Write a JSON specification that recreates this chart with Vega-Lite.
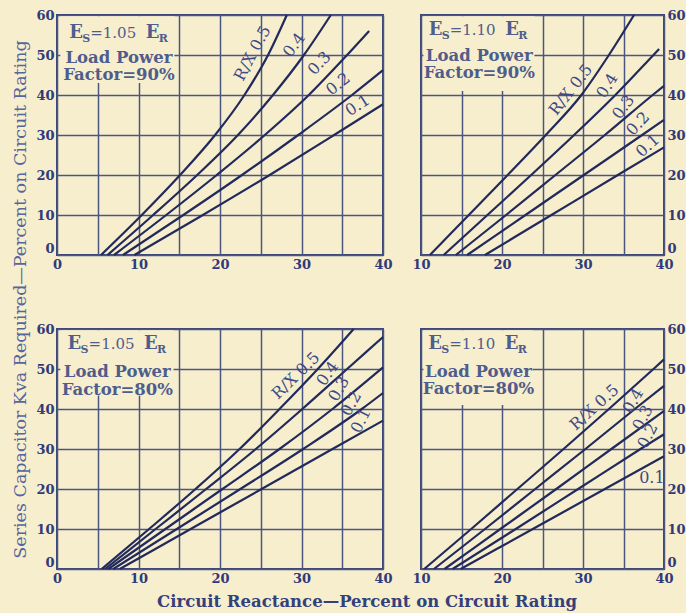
{
  "$schema": "https://vega.github.io/schema/vega-lite/v6.json",
  "background": "#f7eecd",
  "padding": {"left": 9, "top": 8, "right": 2, "bottom": 2},
  "datasets": {
    "curves": [
      {"p":"TL","rx":"0.5","x":5.4,"y":0},{"p":"TL","rx":"0.5","x":10.4,"y":10},{"p":"TL","rx":"0.5","x":15.1,"y":20},{"p":"TL","rx":"0.5","x":19.4,"y":30},{"p":"TL","rx":"0.5","x":23.0,"y":40},{"p":"TL","rx":"0.5","x":25.9,"y":50},{"p":"TL","rx":"0.5","x":28.2,"y":60},
      {"p":"TL","rx":"0.4","x":6.2,"y":0},{"p":"TL","rx":"0.4","x":11.8,"y":10},{"p":"TL","rx":"0.4","x":17.2,"y":20},{"p":"TL","rx":"0.4","x":22.2,"y":30},{"p":"TL","rx":"0.4","x":26.5,"y":40},{"p":"TL","rx":"0.4","x":30.3,"y":50},{"p":"TL","rx":"0.4","x":33.6,"y":60},
      {"p":"TL","rx":"0.3","x":7.0,"y":0},{"p":"TL","rx":"0.3","x":13.4,"y":10},{"p":"TL","rx":"0.3","x":19.6,"y":20},{"p":"TL","rx":"0.3","x":25.5,"y":30},{"p":"TL","rx":"0.3","x":30.9,"y":40},{"p":"TL","rx":"0.3","x":35.6,"y":50},{"p":"TL","rx":"0.3","x":38.3,"y":56},
      {"p":"TL","rx":"0.2","x":8.1,"y":0},{"p":"TL","rx":"0.2","x":15.5,"y":10},{"p":"TL","rx":"0.2","x":22.7,"y":20},{"p":"TL","rx":"0.2","x":29.6,"y":30},{"p":"TL","rx":"0.2","x":36.2,"y":40},{"p":"TL","rx":"0.2","x":40,"y":46.2},
      {"p":"TL","rx":"0.1","x":9.5,"y":0},{"p":"TL","rx":"0.1","x":17.9,"y":10},{"p":"TL","rx":"0.1","x":26.1,"y":20},{"p":"TL","rx":"0.1","x":34.0,"y":30},{"p":"TL","rx":"0.1","x":40,"y":37.7},

      {"p":"TR","rx":"0.5","x":11.1,"y":0},{"p":"TR","rx":"0.5","x":15.9,"y":10},{"p":"TR","rx":"0.5","x":20.7,"y":20},{"p":"TR","rx":"0.5","x":25.4,"y":30},{"p":"TR","rx":"0.5","x":29.8,"y":40},{"p":"TR","rx":"0.5","x":33.2,"y":50},{"p":"TR","rx":"0.5","x":36.3,"y":60},
      {"p":"TR","rx":"0.4","x":12.8,"y":0},{"p":"TR","rx":"0.4","x":18.2,"y":10},{"p":"TR","rx":"0.4","x":23.6,"y":20},{"p":"TR","rx":"0.4","x":28.9,"y":30},{"p":"TR","rx":"0.4","x":34.0,"y":40},{"p":"TR","rx":"0.4","x":38.7,"y":50},{"p":"TR","rx":"0.4","x":39.4,"y":51.5},
      {"p":"TR","rx":"0.3","x":14.3,"y":0},{"p":"TR","rx":"0.3","x":20.5,"y":10},{"p":"TR","rx":"0.3","x":26.6,"y":20},{"p":"TR","rx":"0.3","x":32.7,"y":30},{"p":"TR","rx":"0.3","x":38.6,"y":40},{"p":"TR","rx":"0.3","x":40,"y":42.3},
      {"p":"TR","rx":"0.2","x":15.7,"y":0},{"p":"TR","rx":"0.2","x":22.9,"y":10},{"p":"TR","rx":"0.2","x":30.1,"y":20},{"p":"TR","rx":"0.2","x":37.3,"y":30},{"p":"TR","rx":"0.2","x":40,"y":33.8},
      {"p":"TR","rx":"0.1","x":17.9,"y":0},{"p":"TR","rx":"0.1","x":26.1,"y":10},{"p":"TR","rx":"0.1","x":34.3,"y":20},{"p":"TR","rx":"0.1","x":40,"y":26.9},

      {"p":"BL","rx":"0.5","x":5.5,"y":0},{"p":"BL","rx":"0.5","x":11.3,"y":10},{"p":"BL","rx":"0.5","x":17.0,"y":20},{"p":"BL","rx":"0.5","x":22.4,"y":30},{"p":"BL","rx":"0.5","x":27.3,"y":40},{"p":"BL","rx":"0.5","x":32.0,"y":50},{"p":"BL","rx":"0.5","x":36.4,"y":60},
      {"p":"BL","rx":"0.4","x":5.9,"y":0},{"p":"BL","rx":"0.4","x":12.1,"y":10},{"p":"BL","rx":"0.4","x":18.3,"y":20},{"p":"BL","rx":"0.4","x":24.4,"y":30},{"p":"BL","rx":"0.4","x":30.1,"y":40},{"p":"BL","rx":"0.4","x":35.6,"y":50},{"p":"BL","rx":"0.4","x":40,"y":58},
      {"p":"BL","rx":"0.3","x":6.3,"y":0},{"p":"BL","rx":"0.3","x":13.3,"y":10},{"p":"BL","rx":"0.3","x":20.3,"y":20},{"p":"BL","rx":"0.3","x":27.3,"y":30},{"p":"BL","rx":"0.3","x":33.8,"y":40},{"p":"BL","rx":"0.3","x":40,"y":50.4},
      {"p":"BL","rx":"0.2","x":6.9,"y":0},{"p":"BL","rx":"0.2","x":14.7,"y":10},{"p":"BL","rx":"0.2","x":22.5,"y":20},{"p":"BL","rx":"0.2","x":30.2,"y":30},{"p":"BL","rx":"0.2","x":37.4,"y":40},{"p":"BL","rx":"0.2","x":40,"y":44},
      {"p":"BL","rx":"0.1","x":7.7,"y":0},{"p":"BL","rx":"0.1","x":16.4,"y":10},{"p":"BL","rx":"0.1","x":25.1,"y":20},{"p":"BL","rx":"0.1","x":33.8,"y":30},{"p":"BL","rx":"0.1","x":40,"y":37.1},

      {"p":"BR","rx":"0.5","x":10.4,"y":0},{"p":"BR","rx":"0.5","x":16.2,"y":10},{"p":"BR","rx":"0.5","x":21.9,"y":20},{"p":"BR","rx":"0.5","x":27.6,"y":30},{"p":"BR","rx":"0.5","x":33.2,"y":40},{"p":"BR","rx":"0.5","x":38.7,"y":50},{"p":"BR","rx":"0.5","x":40,"y":52.4},
      {"p":"BR","rx":"0.4","x":11.6,"y":0},{"p":"BR","rx":"0.4","x":17.9,"y":10},{"p":"BR","rx":"0.4","x":24.1,"y":20},{"p":"BR","rx":"0.4","x":30.3,"y":30},{"p":"BR","rx":"0.4","x":36.4,"y":40},{"p":"BR","rx":"0.4","x":40,"y":45.8},
      {"p":"BR","rx":"0.3","x":12.9,"y":0},{"p":"BR","rx":"0.3","x":19.8,"y":10},{"p":"BR","rx":"0.3","x":26.7,"y":20},{"p":"BR","rx":"0.3","x":33.5,"y":30},{"p":"BR","rx":"0.3","x":40,"y":39.5},
      {"p":"BR","rx":"0.2","x":13.9,"y":0},{"p":"BR","rx":"0.2","x":21.7,"y":10},{"p":"BR","rx":"0.2","x":29.4,"y":20},{"p":"BR","rx":"0.2","x":37.1,"y":30},{"p":"BR","rx":"0.2","x":40,"y":33.7},
      {"p":"BR","rx":"0.1","x":14.9,"y":0},{"p":"BR","rx":"0.1","x":23.8,"y":10},{"p":"BR","rx":"0.1","x":32.7,"y":20},{"p":"BR","rx":"0.1","x":40,"y":28.2}
    ],
    "labels": [
      {"p":"TL","t":"R/X 0.5","x":24.0,"y":50.4},{"p":"TL","t":"0.4","x":29.1,"y":52.5},{"p":"TL","t":"0.3","x":32.2,"y":47.9},{"p":"TL","t":"0.2","x":34.5,"y":42.7},{"p":"TL","t":"0.1","x":36.9,"y":37.4},
      {"p":"TR","t":"R/X 0.5","x":28.5,"y":41.3},{"p":"TR","t":"0.4","x":33.0,"y":42.3},{"p":"TR","t":"0.3","x":35.0,"y":37.0},{"p":"TR","t":"0.2","x":36.8,"y":32.8},{"p":"TR","t":"0.1","x":38.0,"y":27.3},
      {"p":"BL","t":"R/X 0.5","x":29.3,"y":48.3},{"p":"BL","t":"0.4","x":33.2,"y":48.8},{"p":"BL","t":"0.3","x":34.6,"y":45.0},{"p":"BL","t":"0.2","x":36.1,"y":41.3},{"p":"BL","t":"0.1","x":37.3,"y":37.1},
      {"p":"BR","t":"R/X 0.5","x":31.4,"y":40.4},{"p":"BR","t":"0.4","x":36.2,"y":42.0},{"p":"BR","t":"0.3","x":37.4,"y":37.8},{"p":"BR","t":"0.2","x":38.0,"y":33.3},{"p":"BR","t":"0.1","x":38.5,"y":22.8}
    ]
  },
  "columns": 2,
  "align": "each",
  "bounds": "flush",
  "spacing": {"row": 74, "column": 38},
  "resolve": {"scale": {"x": "independent", "y": "independent"}},
  "concat": [
    {
      "width": 326, "height": 240,
      "layer": [
        {"data": {"name": "curves"}, "transform": [{"filter": "datum.p === 'TL'"}],
         "mark": {"type": "line", "color": "#222a5c", "strokeWidth": 2.2, "interpolate": "monotone"},
         "encoding": {
           "x": {"field": "x", "type": "quantitative", "scale": {"domain": [0, 40], "nice": false, "zero": false},
                 "axis": {"values": [0,5,10,15,20,25,30,35,40], "labelExpr": "datum.value % 10 === 0 ? datum.label : ''", "title": null}},
           "y": {"field": "y", "type": "quantitative", "scale": {"domain": [0, 60], "nice": false},
                 "axis": {"values": [0,10,20,30,40,50,60], "labelBaseline": {"condition": {"test": "datum.value === 0", "value": "bottom"}, "value": "middle"},
                          "title": "Series Capacitor Kva Required—Percent on Circuit Rating",
                          "titleX": -37, "titleY": 284, "titleAngle": 270, "titleAlign": "center", "titleBaseline": "middle",
                          "titleFont": "DejaVu Serif", "titleFontSize": 17.5, "titleFontWeight": "normal", "titleColor": "#5565a0"}},
           "detail": {"field": "rx"}}},
        {"data": {"values": [{}]}, "mark": {"type": "rect", "fill": "#f7eecd"},
         "encoding": {
           "x": {"datum": 0.4, "type": "quantitative", "axis": {"values": [0,5,10,15,20,25,30,35,40], "labelExpr": "datum.value % 10 === 0 ? datum.label : ''", "title": null}},
           "x2": {"datum": 14.4},
           "y": {"datum": 43, "type": "quantitative", "axis": {"values": [0,10,20,30,40,50,60], "title": "Series Capacitor Kva Required—Percent on Circuit Rating",
                          "titleX": -37, "titleY": 284, "titleAngle": 270, "titleAlign": "center", "titleBaseline": "middle",
                          "titleFont": "DejaVu Serif", "titleFontSize": 17.5, "titleFontWeight": "normal", "titleColor": "#5565a0"}},
           "y2": {"datum": 59.7}}},
        {"data": {"name": "labels"}, "transform": [{"filter": "datum.p === 'TL'"}],
         "mark": {"type": "text", "font": "DejaVu Serif", "fontSize": 16, "color": "#3c4987", "align": "center", "baseline": "middle"},
         "encoding": {
           "x": {"field": "x", "type": "quantitative", "axis": {"values": [0,5,10,15,20,25,30,35,40], "labelExpr": "datum.value % 10 === 0 ? datum.label : ''", "title": null}},
           "y": {"field": "y", "type": "quantitative", "axis": {"values": [0,10,20,30,40,50,60], "title": "Series Capacitor Kva Required—Percent on Circuit Rating",
                          "titleX": -37, "titleY": 284, "titleAngle": 270, "titleAlign": "center", "titleBaseline": "middle",
                          "titleFont": "DejaVu Serif", "titleFontSize": 17.5, "titleFontWeight": "normal", "titleColor": "#5565a0"}},
           "text": {"field": "t"},
           "angle": {"condition": [{"test": "datum.t === 'R/X 0.5'", "value": 298}, {"test": "datum.t === '0.4'", "value": 306}, {"test": "datum.t === '0.3'", "value": 313}, {"test": "datum.t === '0.2'", "value": 322}], "value": 327}}},
        {"data": {"values": [{"a": "E", "b": "S", "c": "=1.05", "d": "E", "e": "R"}]},
         "encoding": {
           "x": {"datum": 1.5, "type": "quantitative", "axis": {"values": [0,5,10,15,20,25,30,35,40], "labelExpr": "datum.value % 10 === 0 ? datum.label : ''", "title": null}},
           "y": {"datum": 54.2, "type": "quantitative", "axis": {"values": [0,10,20,30,40,50,60], "title": "Series Capacitor Kva Required—Percent on Circuit Rating",
                          "titleX": -37, "titleY": 284, "titleAngle": 270, "titleAlign": "center", "titleBaseline": "middle",
                          "titleFont": "DejaVu Serif", "titleFontSize": 17.5, "titleFontWeight": "normal", "titleColor": "#5565a0"}}},
         "layer": [
           {"mark": {"type": "text", "font": "DejaVu Serif", "fontWeight": "bold", "fontSize": 18, "color": "#4f5d8c", "align": "left", "baseline": "alphabetic"}, "encoding": {"text": {"field": "a"}}},
           {"mark": {"type": "text", "font": "DejaVu Serif", "fontWeight": "bold", "fontSize": 11, "color": "#4f5d8c", "align": "left", "baseline": "alphabetic", "dx": 13, "dy": 3.5}, "encoding": {"text": {"field": "b"}}},
           {"mark": {"type": "text", "font": "DejaVu Serif", "fontSize": 15, "color": "#4f5d8c", "align": "left", "baseline": "alphabetic", "dx": 21}, "encoding": {"text": {"field": "c"}}},
           {"mark": {"type": "text", "font": "DejaVu Serif", "fontWeight": "bold", "fontSize": 18, "color": "#4f5d8c", "align": "left", "baseline": "alphabetic", "dx": 76.5}, "encoding": {"text": {"field": "d"}}},
           {"mark": {"type": "text", "font": "DejaVu Serif", "fontWeight": "bold", "fontSize": 11, "color": "#4f5d8c", "align": "left", "baseline": "alphabetic", "dx": 89.5, "dy": 3.5}, "encoding": {"text": {"field": "e"}}}
         ]},
        {"data": {"values": [{}]}, "mark": {"type": "text", "font": "DejaVu Serif", "fontWeight": "bold", "fontSize": 16.5, "lineHeight": 17.5, "color": "#4f5d8c", "align": "center", "baseline": "alphabetic"},
         "encoding": {
           "x": {"datum": 7.6, "type": "quantitative", "axis": {"values": [0,5,10,15,20,25,30,35,40], "labelExpr": "datum.value % 10 === 0 ? datum.label : ''", "title": null}},
           "y": {"datum": 48.1, "type": "quantitative", "axis": {"values": [0,10,20,30,40,50,60], "title": "Series Capacitor Kva Required—Percent on Circuit Rating",
                          "titleX": -37, "titleY": 284, "titleAngle": 270, "titleAlign": "center", "titleBaseline": "middle",
                          "titleFont": "DejaVu Serif", "titleFontSize": 17.5, "titleFontWeight": "normal", "titleColor": "#5565a0"}},
           "text": {"value": ["Load Power", "Factor=90%"]}}}
      ]
    },
    {
      "width": 243, "height": 240,
      "layer": [
        {"data": {"name": "curves"}, "transform": [{"filter": "datum.p === 'TR'"}],
         "mark": {"type": "line", "color": "#222a5c", "strokeWidth": 2.2, "interpolate": "monotone"},
         "encoding": {
           "x": {"field": "x", "type": "quantitative", "scale": {"domain": [10, 40], "nice": false, "zero": false},
                 "axis": {"values": [10,15,20,25,30,35,40], "labelExpr": "datum.value % 10 === 0 ? datum.label : ''", "title": null}},
           "y": {"field": "y", "type": "quantitative", "scale": {"domain": [0, 60], "nice": false},
                 "axis": {"orient": "right", "values": [0,10,20,30,40,50,60], "labelBaseline": {"condition": {"test": "datum.value === 0", "value": "bottom"}, "value": "middle"}, "title": null}},
           "detail": {"field": "rx"}}},
        {"data": {"values": [{}]}, "mark": {"type": "rect", "fill": "#f7eecd"},
         "encoding": {
           "x": {"datum": 10.3, "type": "quantitative", "axis": {"values": [10,15,20,25,30,35,40], "labelExpr": "datum.value % 10 === 0 ? datum.label : ''", "title": null}},
           "x2": {"datum": 24.0},
           "y": {"datum": 41, "type": "quantitative", "axis": {"orient": "right", "values": [0,10,20,30,40,50,60], "title": null}},
           "y2": {"datum": 59.7}}},
        {"data": {"name": "labels"}, "transform": [{"filter": "datum.p === 'TR'"}],
         "mark": {"type": "text", "font": "DejaVu Serif", "fontSize": 16, "color": "#3c4987", "align": "center", "baseline": "middle"},
         "encoding": {
           "x": {"field": "x", "type": "quantitative", "axis": {"values": [10,15,20,25,30,35,40], "labelExpr": "datum.value % 10 === 0 ? datum.label : ''", "title": null}},
           "y": {"field": "y", "type": "quantitative", "axis": {"orient": "right", "values": [0,10,20,30,40,50,60], "title": null}},
           "text": {"field": "t"},
           "angle": {"condition": [{"test": "datum.t === 'R/X 0.5'", "value": 308}, {"test": "datum.t === '0.4'", "value": 302}, {"test": "datum.t === '0.3'", "value": 306}, {"test": "datum.t === '0.2'", "value": 313}], "value": 318}}},
        {"data": {"values": [{"a": "E", "b": "S", "c": "=1.10", "d": "E", "e": "R"}]},
         "encoding": {
           "x": {"datum": 10.95, "type": "quantitative", "axis": {"values": [10,15,20,25,30,35,40], "labelExpr": "datum.value % 10 === 0 ? datum.label : ''", "title": null}},
           "y": {"datum": 55, "type": "quantitative", "axis": {"orient": "right", "values": [0,10,20,30,40,50,60], "title": null}}},
         "layer": [
           {"mark": {"type": "text", "font": "DejaVu Serif", "fontWeight": "bold", "fontSize": 18, "color": "#4f5d8c", "align": "left", "baseline": "alphabetic"}, "encoding": {"text": {"field": "a"}}},
           {"mark": {"type": "text", "font": "DejaVu Serif", "fontWeight": "bold", "fontSize": 11, "color": "#4f5d8c", "align": "left", "baseline": "alphabetic", "dx": 13, "dy": 3.5}, "encoding": {"text": {"field": "b"}}},
           {"mark": {"type": "text", "font": "DejaVu Serif", "fontSize": 15, "color": "#4f5d8c", "align": "left", "baseline": "alphabetic", "dx": 21}, "encoding": {"text": {"field": "c"}}},
           {"mark": {"type": "text", "font": "DejaVu Serif", "fontWeight": "bold", "fontSize": 18, "color": "#4f5d8c", "align": "left", "baseline": "alphabetic", "dx": 76.5}, "encoding": {"text": {"field": "d"}}},
           {"mark": {"type": "text", "font": "DejaVu Serif", "fontWeight": "bold", "fontSize": 11, "color": "#4f5d8c", "align": "left", "baseline": "alphabetic", "dx": 89.5, "dy": 3.5}, "encoding": {"text": {"field": "e"}}}
         ]},
        {"data": {"values": [{}]}, "mark": {"type": "text", "font": "DejaVu Serif", "fontWeight": "bold", "fontSize": 16.5, "lineHeight": 17.5, "color": "#4f5d8c", "align": "center", "baseline": "alphabetic"},
         "encoding": {
           "x": {"datum": 17.2, "type": "quantitative", "axis": {"values": [10,15,20,25,30,35,40], "labelExpr": "datum.value % 10 === 0 ? datum.label : ''", "title": null}},
           "y": {"datum": 48.6, "type": "quantitative", "axis": {"orient": "right", "values": [0,10,20,30,40,50,60], "title": null}},
           "text": {"value": ["Load Power", "Factor=90%"]}}}
      ]
    },
    {
      "width": 326, "height": 240,
      "layer": [
        {"data": {"name": "curves"}, "transform": [{"filter": "datum.p === 'BL'"}],
         "mark": {"type": "line", "color": "#222a5c", "strokeWidth": 2.2, "interpolate": "monotone"},
         "encoding": {
           "x": {"field": "x", "type": "quantitative", "scale": {"domain": [0, 40], "nice": false, "zero": false},
                 "axis": {"values": [0,5,10,15,20,25,30,35,40], "labelExpr": "datum.value % 10 === 0 ? datum.label : ''",
                          "title": "Circuit Reactance—Percent on Circuit Rating", "titleX": 309.5, "titleY": 32, "titleAlign": "center", "titleBaseline": "middle",
                          "titleFont": "DejaVu Serif", "titleFontSize": 16.5, "titleFontWeight": "bold", "titleColor": "#34407c"}},
           "y": {"field": "y", "type": "quantitative", "scale": {"domain": [0, 60], "nice": false},
                 "axis": {"values": [0,10,20,30,40,50,60], "labelBaseline": {"condition": {"test": "datum.value === 0", "value": "bottom"}, "value": "middle"}, "title": null}},
           "detail": {"field": "rx"}}},
        {"data": {"values": [{}]}, "mark": {"type": "rect", "fill": "#f7eecd"},
         "encoding": {
           "x": {"datum": 0.4, "type": "quantitative", "axis": {"values": [0,5,10,15,20,25,30,35,40], "labelExpr": "datum.value % 10 === 0 ? datum.label : ''",
                          "title": "Circuit Reactance—Percent on Circuit Rating", "titleX": 309.5, "titleY": 32, "titleAlign": "center", "titleBaseline": "middle",
                          "titleFont": "DejaVu Serif", "titleFontSize": 16.5, "titleFontWeight": "bold", "titleColor": "#34407c"}},
           "x2": {"datum": 14.3},
           "y": {"datum": 43.4, "type": "quantitative", "axis": {"values": [0,10,20,30,40,50,60], "title": null}},
           "y2": {"datum": 59.7}}},
        {"data": {"name": "labels"}, "transform": [{"filter": "datum.p === 'BL'"}],
         "mark": {"type": "text", "font": "DejaVu Serif", "fontSize": 16, "color": "#3c4987", "align": "center", "baseline": "middle"},
         "encoding": {
           "x": {"field": "x", "type": "quantitative", "axis": {"values": [0,5,10,15,20,25,30,35,40], "labelExpr": "datum.value % 10 === 0 ? datum.label : ''",
                          "title": "Circuit Reactance—Percent on Circuit Rating", "titleX": 309.5, "titleY": 32, "titleAlign": "center", "titleBaseline": "middle",
                          "titleFont": "DejaVu Serif", "titleFontSize": 16.5, "titleFontWeight": "bold", "titleColor": "#34407c"}},
           "y": {"field": "y", "type": "quantitative", "axis": {"values": [0,10,20,30,40,50,60], "title": null}},
           "text": {"field": "t"},
           "angle": {"condition": [{"test": "datum.t === 'R/X 0.5'", "value": 316}, {"test": "datum.t === '0.4'", "value": 305}, {"test": "datum.t === '0.3'", "value": 300}, {"test": "datum.t === '0.2'", "value": 300}], "value": 297}}},
        {"data": {"values": [{"a": "E", "b": "S", "c": "=1.05", "d": "E", "e": "R"}]},
         "encoding": {
           "x": {"datum": 1.3, "type": "quantitative", "axis": {"values": [0,5,10,15,20,25,30,35,40], "labelExpr": "datum.value % 10 === 0 ? datum.label : ''",
                          "title": "Circuit Reactance—Percent on Circuit Rating", "titleX": 309.5, "titleY": 32, "titleAlign": "center", "titleBaseline": "middle",
                          "titleFont": "DejaVu Serif", "titleFontSize": 16.5, "titleFontWeight": "bold", "titleColor": "#34407c"}},
           "y": {"datum": 55, "type": "quantitative", "axis": {"values": [0,10,20,30,40,50,60], "title": null}}},
         "layer": [
           {"mark": {"type": "text", "font": "DejaVu Serif", "fontWeight": "bold", "fontSize": 18, "color": "#4f5d8c", "align": "left", "baseline": "alphabetic"}, "encoding": {"text": {"field": "a"}}},
           {"mark": {"type": "text", "font": "DejaVu Serif", "fontWeight": "bold", "fontSize": 11, "color": "#4f5d8c", "align": "left", "baseline": "alphabetic", "dx": 13, "dy": 3.5}, "encoding": {"text": {"field": "b"}}},
           {"mark": {"type": "text", "font": "DejaVu Serif", "fontSize": 15, "color": "#4f5d8c", "align": "left", "baseline": "alphabetic", "dx": 21}, "encoding": {"text": {"field": "c"}}},
           {"mark": {"type": "text", "font": "DejaVu Serif", "fontWeight": "bold", "fontSize": 18, "color": "#4f5d8c", "align": "left", "baseline": "alphabetic", "dx": 76.5}, "encoding": {"text": {"field": "d"}}},
           {"mark": {"type": "text", "font": "DejaVu Serif", "fontWeight": "bold", "fontSize": 11, "color": "#4f5d8c", "align": "left", "baseline": "alphabetic", "dx": 89.5, "dy": 3.5}, "encoding": {"text": {"field": "e"}}}
         ]},
        {"data": {"values": [{}]}, "mark": {"type": "text", "font": "DejaVu Serif", "fontWeight": "bold", "fontSize": 16.5, "lineHeight": 17.5, "color": "#4f5d8c", "align": "center", "baseline": "alphabetic"},
         "encoding": {
           "x": {"datum": 7.4, "type": "quantitative", "axis": {"values": [0,5,10,15,20,25,30,35,40], "labelExpr": "datum.value % 10 === 0 ? datum.label : ''",
                          "title": "Circuit Reactance—Percent on Circuit Rating", "titleX": 309.5, "titleY": 32, "titleAlign": "center", "titleBaseline": "middle",
                          "titleFont": "DejaVu Serif", "titleFontSize": 16.5, "titleFontWeight": "bold", "titleColor": "#34407c"}},
           "y": {"datum": 47.9, "type": "quantitative", "axis": {"values": [0,10,20,30,40,50,60], "title": null}},
           "text": {"value": ["Load Power", "Factor=80%"]}}}
      ]
    },
    {
      "width": 243, "height": 240,
      "layer": [
        {"data": {"name": "curves"}, "transform": [{"filter": "datum.p === 'BR'"}],
         "mark": {"type": "line", "color": "#222a5c", "strokeWidth": 2.2, "interpolate": "monotone"},
         "encoding": {
           "x": {"field": "x", "type": "quantitative", "scale": {"domain": [10, 40], "nice": false, "zero": false},
                 "axis": {"values": [10,15,20,25,30,35,40], "labelExpr": "datum.value % 10 === 0 ? datum.label : ''", "title": null}},
           "y": {"field": "y", "type": "quantitative", "scale": {"domain": [0, 60], "nice": false},
                 "axis": {"orient": "right", "values": [0,10,20,30,40,50,60], "labelBaseline": {"condition": {"test": "datum.value === 0", "value": "bottom"}, "value": "middle"}, "title": null}},
           "detail": {"field": "rx"}}},
        {"data": {"values": [{}]}, "mark": {"type": "rect", "fill": "#f7eecd"},
         "encoding": {
           "x": {"datum": 10.3, "type": "quantitative", "axis": {"values": [10,15,20,25,30,35,40], "labelExpr": "datum.value % 10 === 0 ? datum.label : ''", "title": null}},
           "x2": {"datum": 23.8},
           "y": {"datum": 41, "type": "quantitative", "axis": {"orient": "right", "values": [0,10,20,30,40,50,60], "title": null}},
           "y2": {"datum": 59.7}}},
        {"data": {"name": "labels"}, "transform": [{"filter": "datum.p === 'BR'"}],
         "mark": {"type": "text", "font": "DejaVu Serif", "fontSize": 16, "color": "#3c4987", "align": "center", "baseline": "middle"},
         "encoding": {
           "x": {"field": "x", "type": "quantitative", "axis": {"values": [10,15,20,25,30,35,40], "labelExpr": "datum.value % 10 === 0 ? datum.label : ''", "title": null}},
           "y": {"field": "y", "type": "quantitative", "axis": {"orient": "right", "values": [0,10,20,30,40,50,60], "title": null}},
           "text": {"field": "t"},
           "angle": {"condition": [{"test": "datum.t === 'R/X 0.5'", "value": 318}, {"test": "datum.t === '0.4'", "value": 300}, {"test": "datum.t === '0.3'", "value": 297}, {"test": "datum.t === '0.2'", "value": 297}], "value": 0}}},
        {"data": {"values": [{"a": "E", "b": "S", "c": "=1.10", "d": "E", "e": "R"}]},
         "encoding": {
           "x": {"datum": 10.9, "type": "quantitative", "axis": {"values": [10,15,20,25,30,35,40], "labelExpr": "datum.value % 10 === 0 ? datum.label : ''", "title": null}},
           "y": {"datum": 55, "type": "quantitative", "axis": {"orient": "right", "values": [0,10,20,30,40,50,60], "title": null}}},
         "layer": [
           {"mark": {"type": "text", "font": "DejaVu Serif", "fontWeight": "bold", "fontSize": 18, "color": "#4f5d8c", "align": "left", "baseline": "alphabetic"}, "encoding": {"text": {"field": "a"}}},
           {"mark": {"type": "text", "font": "DejaVu Serif", "fontWeight": "bold", "fontSize": 11, "color": "#4f5d8c", "align": "left", "baseline": "alphabetic", "dx": 13, "dy": 3.5}, "encoding": {"text": {"field": "b"}}},
           {"mark": {"type": "text", "font": "DejaVu Serif", "fontSize": 15, "color": "#4f5d8c", "align": "left", "baseline": "alphabetic", "dx": 21}, "encoding": {"text": {"field": "c"}}},
           {"mark": {"type": "text", "font": "DejaVu Serif", "fontWeight": "bold", "fontSize": 18, "color": "#4f5d8c", "align": "left", "baseline": "alphabetic", "dx": 76.5}, "encoding": {"text": {"field": "d"}}},
           {"mark": {"type": "text", "font": "DejaVu Serif", "fontWeight": "bold", "fontSize": 11, "color": "#4f5d8c", "align": "left", "baseline": "alphabetic", "dx": 89.5, "dy": 3.5}, "encoding": {"text": {"field": "e"}}}
         ]},
        {"data": {"values": [{}]}, "mark": {"type": "text", "font": "DejaVu Serif", "fontWeight": "bold", "fontSize": 16.5, "lineHeight": 17.5, "color": "#4f5d8c", "align": "center", "baseline": "alphabetic"},
         "encoding": {
           "x": {"datum": 17.1, "type": "quantitative", "axis": {"values": [10,15,20,25,30,35,40], "labelExpr": "datum.value % 10 === 0 ? datum.label : ''", "title": null}},
           "y": {"datum": 48.1, "type": "quantitative", "axis": {"orient": "right", "values": [0,10,20,30,40,50,60], "title": null}},
           "text": {"value": ["Load Power", "Factor=80%"]}}}
      ]
    }
  ],
  "config": {
    "view": {"stroke": "#3b4577", "strokeWidth": 2, "fill": "#f7eecd"},
    "axis": {"grid": true, "gridColor": "#4a5582", "gridWidth": 1.5, "gridOpacity": 1, "domain": false, "ticks": false,
             "labelFont": "DejaVu Serif", "labelFontWeight": "bold", "labelFontSize": 13, "labelColor": "#2f3a7a",
             "labelFlush": false, "labelOverlap": false, "labelPadding": 3}
  }
}
